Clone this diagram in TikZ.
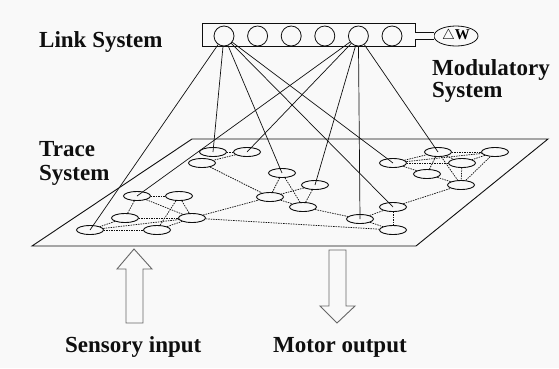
\documentclass[tikz,border=0pt]{standalone}
\usepackage{fontspec}
\setmainfont{Liberation Serif}[BoldFont={Liberation Serif Bold}]
\newfontfamily\lserif{Liberation Serif}[BoldFont={Liberation Serif Bold}]
\usetikzlibrary{shapes.geometric}
\definecolor{bg}{RGB}{249,249,249}
\definecolor{ink}{RGB}{15,15,15}
\begin{document}
\begin{tikzpicture}[x=1pt,y=-1pt,
  lbl/.style={font=\lserif\fontsize{23}{23}\selectfont\bfseries, inner sep=0, anchor=base west, text=ink},
  cell/.style={ellipse, draw=ink, line width=0.9pt, fill=bg, minimum width=27pt, minimum height=9pt, inner sep=0},
  lcirc/.style={circle, draw=ink, line width=0.8pt, minimum size=20pt, inner sep=0},
  tr/.style={ink, line width=0.7pt, dash pattern=on 1.5pt off 1pt},
  lk/.style={ink, line width=0.7pt},
  bigarrow/.style={draw=black!60, line width=0.9pt, fill=bg}]
\useasboundingbox (0,0) rectangle (559,368);
\fill[bg] (0,0) rectangle (559,368);

% labels
\node[lbl] (linklbl) at (39,47) {Link System};
\node[lbl] (mod1) at (432,75) {Modulatory};
\node[lbl] (mod2) at (432,97) {System};
\node[lbl] (tr1) at (39,156) {Trace};
\node[lbl] (tr2) at (39,180) {System};
\node[lbl] (sens) at (65,352) {Sensory input};
\node[lbl] (mot) at (273,352) {Motor output};

% plane
\draw[ink, line width=0.9pt] (192,139) -- (548,139) -- (416,246) -- (32,246) -- cycle;

% link system box
\node[draw=ink, line width=0.8pt, minimum width=213pt, minimum height=23pt, inner sep=0] (box) at (308.5,34.5) {};
\foreach \i/\x in {1/224,2/257.6,3/291.2,4/324.8,5/358.4,6/392}
  \node[lcirc] (c\i) at (\x,36) {};
\node[ellipse, draw=ink, line width=0.8pt, minimum width=44pt, minimum height=20pt, inner sep=0] (dw) at (456,36)
  {\lserif\fontsize{15}{15}\selectfont$\triangle$\textbf{W}};
\draw[ink, line width=0.7pt, double=bg, double distance=6pt] (box.east |- dw.west) -- (dw.west);

% trace cells
\node[cell] (A) at (137,196) {};
\node[cell] (B) at (179,196) {};
\node[cell] (C) at (125,218) {};
\node[cell] (D) at (192,218) {};
\node[cell] (E) at (90,230) {};
\node[cell] (F) at (157,230) {};
\node[cell] (G) at (213,152) {};
\node[cell] (H) at (247,152) {};
\node[cell] (I) at (202,163) {};
\node[cell] (J) at (282,173) {};
\node[cell] (K) at (315,185) {};
\node[cell] (L) at (270,197) {};
\node[cell] (N) at (303,207) {};
\node[cell] (O) at (360,219) {};
\node[cell] (P) at (393,207) {};
\node[cell] (Q) at (393,230) {};
\node[cell] (R) at (393,163) {};
\node[cell] (S) at (438,152) {};
\node[cell] (T) at (495,152) {};
\node[cell] (U) at (462,163) {};
\node[cell] (V) at (427,174) {};
\node[cell] (W) at (461,185) {};

% trace connections
\foreach \a/\b in {A/B,A/C,A/D,B/D,B/F,C/D,C/E,E/D,E/F,F/D,D/L,D/Q,
  G/H,H/I,I/L,J/L,J/N,K/L,K/N,L/N,N/O,O/P,O/Q,P/Q,P/W,
  R/S,R/T,R/U,R/V,S/T,S/U,S/V,T/U,T/W,U/W,V/W,S/W}
  \draw[tr] (\a) -- (\b);

% link connections
\foreach \t in {E,G,J,P,R}
  \draw[lk] (c1) -- (\t.center);
\foreach \t in {A,H,K,O,S}
  \draw[lk] (c5) -- (\t.center);

% input / output arrows
\draw[bigarrow] (134,249) -- (152,269) -- (143,269) -- (143,323) -- (126,323) -- (126,269) -- (117,269) -- cycle;
\draw[bigarrow] (329,250) -- (346,250) -- (346,306) -- (355,306) -- (337,323) -- (320,306) -- (329,306) -- cycle;
\end{tikzpicture}
\end{document}
